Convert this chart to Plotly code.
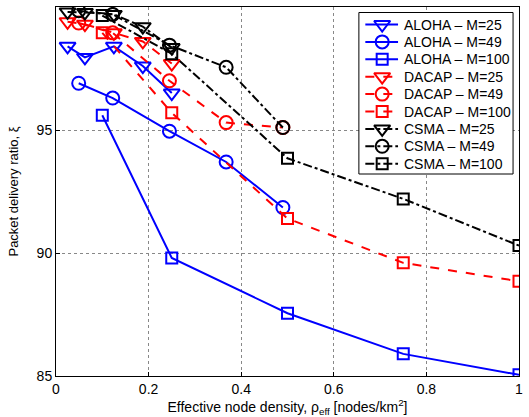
import plotly.graph_objects as go

# x values per network size
x_m25 = [0.025, 0.0625, 0.125, 0.1875, 0.25]
x_m49 = [0.049, 0.1225, 0.245, 0.3675, 0.49]
x_m100 = [0.1, 0.25, 0.5, 0.75, 1.0]

aloha_m25 = [98.4, 97.95, 98.4, 97.6, 96.5]
aloha_m49 = [96.9, 96.3, 94.95, 93.7, 91.85]
aloha_m100 = [95.6, 89.8, 87.55, 85.9, 85.05]

dacap_m25 = [99.4, 99.3, 98.95, 98.6, 97.7]
dacap_m49 = [99.35, 98.95, 97.0, 95.3, 95.1]
dacap_m100 = [98.95, 95.7, 91.4, 89.6, 88.85]

csma_m25 = [99.8, 99.78, 99.7, 99.2, 98.35]
csma_m49 = [99.85, 99.7, 98.45, 97.55, 95.1]
csma_m100 = [99.65, 98.1, 93.85, 92.2, 90.3]

series = [
    ("ALOHA – M=25", x_m25, aloha_m25, "blue", "solid", "triangle-down-open"),
    ("ALOHA – M=49", x_m49, aloha_m49, "blue", "solid", "circle-open"),
    ("ALOHA – M=100", x_m100, aloha_m100, "blue", "solid", "square-open"),
    ("DACAP – M=25", x_m25, dacap_m25, "red", "dash", "triangle-down-open"),
    ("DACAP – M=49", x_m49, dacap_m49, "red", "dash", "circle-open"),
    ("DACAP – M=100", x_m100, dacap_m100, "red", "dash", "square-open"),
    ("CSMA – M=25", x_m25, csma_m25, "black", "dashdot", "triangle-down-open"),
    ("CSMA – M=49", x_m49, csma_m49, "black", "dashdot", "circle-open"),
    ("CSMA – M=100", x_m100, csma_m100, "black", "dashdot", "square-open"),
]


def msize(sym):
    return 14 if "triangle" in sym else (13 if "circle" in sym else 11)


fig = go.Figure()
for name, xs, ys, col, dash, sym in series:
    fig.add_trace(go.Scatter(
        x=xs, y=ys, name=name, mode="lines+markers", showlegend=False,
        line=dict(color=col, width=2, dash=dash),
        marker=dict(symbol=sym, size=msize(sym), color=col, line=dict(width=2, color=col)),
    ))

# ---- custom legend on an overlay axis measured in pixels of the plot area ----
W, H = 529, 417
ML, MR, MT, MB = 56, 6, 7, 41
LEG_X0, LEG_X1, LEG_Y0, LEG_Y1 = 361.5, 517, 12.5, 174
ROW0, ROW_STEP = 24.5, 17.4
LINE_X0, LINE_X1, MARK_X, TEXT_X = 368, 401, 385, 405

# legend box (white, drawn above grid and data)
fig.add_trace(go.Scatter(
    x=[LEG_X0, LEG_X1, LEG_X1, LEG_X0, LEG_X0],
    y=[LEG_Y0, LEG_Y0, LEG_Y1, LEG_Y1, LEG_Y0],
    mode="lines", fill="toself", fillcolor="white",
    line=dict(color="black", width=1), xaxis="x2", yaxis="y2",
    showlegend=False, hoverinfo="skip",
))

annotations = []
for i, (name, xs, ys, col, dash, sym) in enumerate(series):
    yc = ROW0 + ROW_STEP * i
    fig.add_trace(go.Scatter(
        x=[LINE_X0, LINE_X1], y=[yc, yc], mode="lines", xaxis="x2", yaxis="y2",
        showlegend=False, hoverinfo="skip",
        line=dict(color=col, width=2, dash=dash),
    ))
    fig.add_trace(go.Scatter(
        x=[MARK_X], y=[yc], mode="markers", xaxis="x2", yaxis="y2",
        showlegend=False, hoverinfo="skip",
        marker=dict(symbol=sym, size=msize(sym), color=col, line=dict(width=2, color=col)),
    ))
    annotations.append(dict(
        x=TEXT_X, y=yc, xref="x2", yref="y2", text=name, showarrow=False,
        xanchor="left", yanchor="middle", font=dict(size=14, color="black"),
    ))

font = "Liberation Sans, Arial, sans-serif"
fig.update_layout(
    width=W, height=H,
    margin=dict(l=ML, r=MR, t=MT, b=MB),
    paper_bgcolor="white", plot_bgcolor="white",
    font=dict(family=font, size=13, color="black"),
    showlegend=False,
    annotations=annotations,
    xaxis=dict(
        range=[0, 1], tickvals=[0, 0.2, 0.4, 0.6, 0.8, 1],
        ticktext=["0", "0.2", "0.4", "0.6", "0.8", "1"],
        showgrid=True, gridcolor="#888", griddash="dot", gridwidth=1,
        showline=True, linecolor="black", linewidth=1, mirror=True,
        ticks="inside", ticklen=4, tickcolor="black",
        tickfont=dict(size=14), zeroline=False,
        title=dict(text="Effective node density, ρ<sub>eff</sub> [nodes/km<sup>2</sup>]",
                   font=dict(size=14), standoff=0),
    ),
    yaxis=dict(
        range=[85, 100], tickvals=[85, 90, 95, 100],
        showgrid=True, gridcolor="#888", griddash="dot", gridwidth=1,
        showline=True, linecolor="black", linewidth=1, mirror=True,
        ticks="inside", ticklen=4, tickcolor="black",
        tickfont=dict(size=14), zeroline=False,
        title=dict(text="Packet delivery ratio, ξ", font=dict(size=13), standoff=15),
    ),
    xaxis2=dict(overlaying="x", range=[ML, W - MR], visible=False, fixedrange=True),
    yaxis2=dict(overlaying="y", range=[H - MB, MT], visible=False, fixedrange=True),
)
fig.write_html("out.html")
